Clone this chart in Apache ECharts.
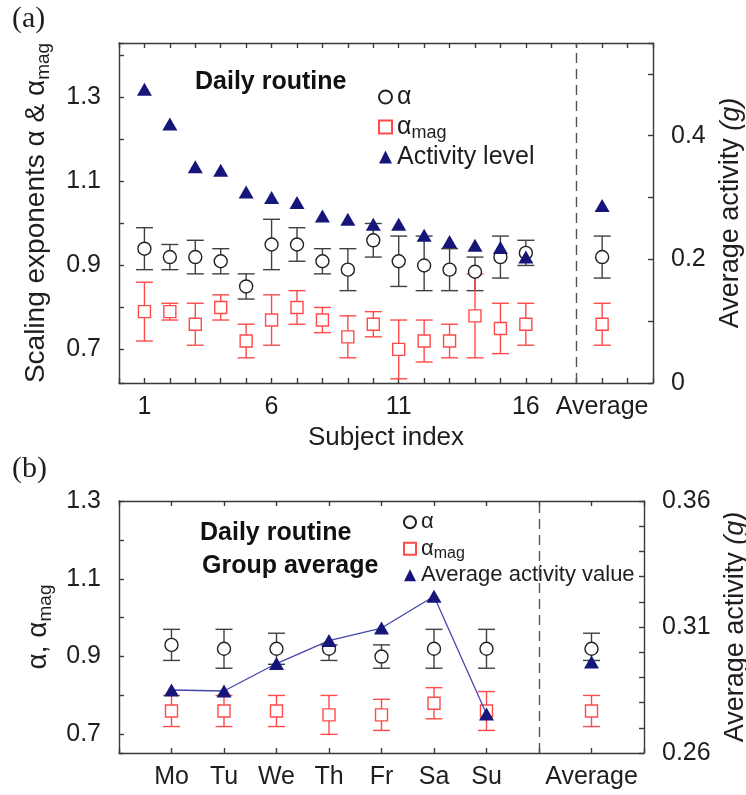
<!DOCTYPE html>
<html>
<head>
<meta charset="utf-8">
<script src="https://cdn.jsdelivr.net/npm/echarts@6/dist/echarts.min.js"></script>
<style>
  html, body { margin: 0; padding: 0; background: #fff; }
  #chart { width: 746px; height: 795px; }
</style>
</head>
<body>
<div id="chart"></div>
<script>
// ---- panel (a): subjects 1..16, "Average" sits at slot 19
const subjX = [1, 2, 3, 4, 5, 6, 7, 8, 9, 10, 11, 12, 13, 14, 15, 16, 19];
const subjTickLabels = { 1: '1', 6: '6', 11: '11', 16: '16', 19: 'Average' };

const alphaA    = [0.94, 0.92, 0.92, 0.91, 0.85, 0.95, 0.95, 0.91, 0.89, 0.96, 0.91, 0.90, 0.89, 0.885, 0.92, 0.93, 0.92];
const alphaATop = [0.99, 0.95, 0.96, 0.94, 0.88, 1.01, 0.99, 0.94, 0.94, 1.00, 0.97, 0.97, 0.94, 0.92, 0.97, 0.96, 0.97];
const alphaABot = [0.89, 0.89, 0.88, 0.88, 0.82, 0.89, 0.91, 0.88, 0.84, 0.92, 0.85, 0.84, 0.84, 0.84, 0.87, 0.90, 0.87];

const magA    = [0.79, 0.79, 0.76, 0.80, 0.72, 0.77, 0.80, 0.77, 0.73, 0.76, 0.70, 0.72, 0.72, 0.78, 0.75, 0.76, 0.76];
const magATop = [0.86, 0.81, 0.81, 0.83, 0.76, 0.83, 0.84, 0.80, 0.78, 0.79, 0.77, 0.77, 0.76, 0.88, 0.81, 0.81, 0.81];
const magABot = [0.72, 0.77, 0.71, 0.77, 0.68, 0.71, 0.76, 0.74, 0.68, 0.73, 0.63, 0.67, 0.68, 0.68, 0.69, 0.71, 0.71];

const actA = [0.475, 0.419, 0.350, 0.344, 0.309, 0.300, 0.292, 0.270, 0.265, 0.257, 0.257, 0.239, 0.229, 0.223, 0.219, 0.204, 0.287];

const leftTicksA = ['0.7', '0.9', '1.1', '1.3'];
const rightTicksA = ['0', '0.2', '0.4'];

// ---- panel (b): weekdays 1..7, "Average" at slot 9
const weekX = [1, 2, 3, 4, 5, 6, 7, 9];
const weekTickLabels = { 1: 'Mo', 2: 'Tu', 3: 'We', 4: 'Th', 5: 'Fr', 6: 'Sa', 7: 'Su', 9: 'Average' };

const alphaB    = [0.93, 0.92, 0.92, 0.92, 0.90, 0.92, 0.92, 0.92];
const alphaBTop = [0.97, 0.97, 0.96, 0.93, 0.93, 0.97, 0.97, 0.96];
const alphaBBot = [0.89, 0.87, 0.88, 0.89, 0.87, 0.87, 0.87, 0.89];

const magB    = [0.76, 0.76, 0.76, 0.75, 0.75, 0.78, 0.76, 0.76];
const magBTop = [0.80, 0.80, 0.80, 0.80, 0.79, 0.82, 0.81, 0.80];
const magBBot = [0.72, 0.72, 0.72, 0.70, 0.71, 0.74, 0.71, 0.72];

const actB = [0.285, 0.2846, 0.2955, 0.3046, 0.3096, 0.3222, 0.2755, 0.2961];

const leftTicksB = ['0.7', '0.9', '1.1', '1.3'];
const rightTicksB = ['0.26', '0.31', '0.36'];

// ---------------------------------------------------------------
const FONT = '"Liberation Sans", Arial, sans-serif';
const INK = '#1e1e1e';
const AXIS = '#3a3a3a';
const BLACK_PT = '#222';
const BLACK_BAR = '#404040';
const RED = '#ff4a4a';
const NAVY = '#16167a';

function zip(xs, a, b) {
  return xs.map((x, i) => b ? [x, a[i], b[i]] : [x, a[i]]);
}

function tickFmt(list) {
  return function (v) {
    for (const s of list) {
      if (Math.abs(parseFloat(s) - v) < 1e-6) return s;
    }
    return '';
  };
}

function errBars(color) {
  return function (params, api) {
    const x = api.value(0);
    const lo = api.coord([x, api.value(1)]);
    const hi = api.coord([x, api.value(2)]);
    const w = 8.5;
    const st = { stroke: color, lineWidth: 1.4 };
    return {
      type: 'group',
      children: [
        { type: 'line', shape: { x1: hi[0], y1: hi[1], x2: lo[0], y2: lo[1] }, style: st },
        { type: 'line', shape: { x1: hi[0] - w, y1: hi[1], x2: hi[0] + w, y2: hi[1] }, style: st },
        { type: 'line', shape: { x1: lo[0] - w, y1: lo[1], x2: lo[0] + w, y2: lo[1] }, style: st }
      ]
    };
  };
}

const axisLine = { show: true, onZero: false, lineStyle: { color: AXIS, width: 1.4 } };
const tickIn = { show: true, inside: true, length: 5, lineStyle: { color: AXIS, width: 1.4 } };
const tickLabel = { color: INK, fontFamily: FONT, fontSize: 25 };

const richSub = (size, lh, sublh, subSize) => ({
  m: { fontFamily: FONT, fontSize: size, color: INK, lineHeight: lh },
  s: { fontFamily: FONT, fontSize: subSize, color: INK, lineHeight: sublh, verticalAlign: 'bottom' },
  i: { fontFamily: FONT, fontSize: size, color: INK, lineHeight: lh, fontStyle: 'italic' }
});

const legendNames = {
  a_alpha: '{m|α}', a_mag: '{m|α}{s|mag}', a_act: '{m|Activity level}',
  b_alpha: '{m|α}', b_mag: '{m|α}{s|mag}', b_act: '{m|Average activity value}'
};

const chart = echarts.init(document.getElementById('chart'), null, { renderer: 'canvas' });

const option = {
  animation: false,
  backgroundColor: '#fff',
  grid: [
    { left: 119, top: 43, width: 534, height: 340, outerBoundsMode: 'none', containLabel: false },
    { left: 119, top: 501, width: 525, height: 252, outerBoundsMode: 'none', containLabel: false }
  ],
  xAxis: [
    {
      gridIndex: 0, type: 'value', min: 0, max: 21, interval: 1, position: 'bottom',
      axisLine: axisLine, axisTick: tickIn, splitLine: { show: false },
      axisLabel: Object.assign({}, tickLabel, { margin: 12, showMinLabel: true, showMaxLabel: true,
        formatter: v => subjTickLabels[Math.round(v)] || '' }),
      name: 'Subject index', nameLocation: 'middle', nameGap: 42,
      nameTextStyle: { fontFamily: FONT, fontSize: 26, color: INK }
    },
    {
      gridIndex: 0, type: 'value', min: 0, max: 21, interval: 1, position: 'top',
      axisLine: axisLine, axisTick: tickIn, axisLabel: { show: false }, splitLine: { show: false }
    },
    {
      gridIndex: 1, type: 'value', min: 0, max: 10, interval: 1, position: 'bottom',
      axisLine: axisLine, axisTick: tickIn, splitLine: { show: false },
      axisLabel: Object.assign({}, tickLabel, { margin: 12, showMinLabel: true, showMaxLabel: true,
        formatter: v => weekTickLabels[Math.round(v)] || '' })
    },
    {
      gridIndex: 1, type: 'value', min: 0, max: 10, interval: 1, position: 'top',
      axisLine: axisLine, axisTick: tickIn, axisLabel: { show: false }, splitLine: { show: false }
    }
  ],
  yAxis: [
    {
      gridIndex: 0, type: 'value', min: 0.62, max: 1.43, minInterval: 0.1, maxInterval: 0.1, position: 'left',
      axisLine: axisLine, axisTick: tickIn, splitLine: { show: false },
      axisLabel: Object.assign({}, tickLabel, { margin: 18, formatter: tickFmt(leftTicksA) }),
      name: '{m|Scaling exponents α & α}{s|mag}', nameLocation: 'middle', nameRotate: 90, nameGap: 66,
      nameTextStyle: { rich: richSub(28, 34, 16, 19) }
    },
    {
      gridIndex: 0, type: 'value', min: 0, max: 0.55, minInterval: 0.1, maxInterval: 0.1, position: 'right',
      axisLine: axisLine, axisTick: tickIn, splitLine: { show: false },
      axisLabel: Object.assign({}, tickLabel, { margin: 18, formatter: tickFmt(rightTicksA) }),
      name: '{m|Average activity }{i|(g)}', nameLocation: 'middle', nameRotate: 90, nameGap: 63,
      nameTextStyle: { rich: richSub(27, 30, 16, 18) }
    },
    {
      gridIndex: 1, type: 'value', min: 0.652, max: 1.3, minInterval: 0.1, maxInterval: 0.1, position: 'left',
      axisLine: axisLine, axisTick: tickIn, splitLine: { show: false },
      axisLabel: Object.assign({}, tickLabel, { margin: 18, formatter: tickFmt(leftTicksB) }),
      name: '{m|α, α}{s|mag}', nameLocation: 'middle', nameRotate: 90, nameGap: 53,
      nameTextStyle: { rich: richSub(28, 34, 16, 19) }
    },
    {
      gridIndex: 1, type: 'value', min: 0.26, max: 0.36, minInterval: 0.01, maxInterval: 0.01, position: 'right',
      axisLine: axisLine, axisTick: tickIn, splitLine: { show: false },
      axisLabel: Object.assign({}, tickLabel, { margin: 18, formatter: tickFmt(rightTicksB) }),
      name: '{m|Average activity }{i|(g)}', nameLocation: 'middle', nameRotate: 90, nameGap: 72,
      nameTextStyle: { rich: richSub(27, 30, 16, 18) }
    }
  ],
  legend: [
    {
      data: [
        { name: 'a_alpha', icon: 'circle' },
        { name: 'a_mag', icon: 'rect' },
        { name: 'a_act', icon: 'triangle' }
      ],
      orient: 'vertical', left: 378, top: 82, itemWidth: 13, itemHeight: 13, itemGap: 0,
      selectedMode: false, padding: 0,
      formatter: n => legendNames[n],
      textStyle: { lineHeight: 30, rich: richSub(25, 30, 14, 18) }
    },
    {
      data: [
        { name: 'b_alpha', icon: 'circle' },
        { name: 'b_mag', icon: 'rect' },
        { name: 'b_act', icon: 'triangle' }
      ],
      orient: 'vertical', left: 403, top: 509, itemWidth: 12, itemHeight: 12, itemGap: 0,
      selectedMode: false, padding: 0,
      formatter: n => legendNames[n],
      textStyle: { lineHeight: 26.5, rich: richSub(22, 26.5, 12, 16) }
    }
  ],
  graphic: [
    { type: 'text', left: 12, top: 4, style: { text: '(a)', font: '30px "Liberation Serif", serif', fill: INK } },
    { type: 'text', left: 12, top: 454, style: { text: '(b)', font: '30px "Liberation Serif", serif', fill: INK } },
    { type: 'text', x: 195, y: 82, style: { text: 'Daily routine', font: 'bold 25px ' + FONT, fill: '#111', textVerticalAlign: 'middle' } },
    { type: 'text', x: 200, y: 533, style: { text: 'Daily routine', font: 'bold 25px ' + FONT, fill: '#111', textVerticalAlign: 'middle' } },
    { type: 'text', x: 202, y: 566, style: { text: 'Group average', font: 'bold 25px ' + FONT, fill: '#111', textVerticalAlign: 'middle' } }
  ],
  series: [
    // ---- panel (a)
    {
      type: 'custom', xAxisIndex: 0, yAxisIndex: 0, renderItem: errBars(BLACK_BAR),
      data: subjX.map((x, i) => [x, alphaABot[i], alphaATop[i]]), encode: { x: 0, y: [1, 2] }, silent: true,
      markLine: {
        silent: true, symbol: 'none', label: { show: false },
        lineStyle: { color: '#555', type: [10, 6], width: 1.4 },
        data: [{ xAxis: 18 }]
      }
    },
    {
      type: 'custom', xAxisIndex: 0, yAxisIndex: 0, renderItem: errBars(RED),
      data: subjX.map((x, i) => [x, magABot[i], magATop[i]]), encode: { x: 0, y: [1, 2] }, silent: true
    },
    {
      name: 'a_alpha', type: 'scatter', xAxisIndex: 0, yAxisIndex: 0, symbol: 'circle', symbolSize: 13,
      itemStyle: { color: '#fff', borderColor: BLACK_PT, borderWidth: 1.4, opacity: 1 },
      data: zip(subjX, alphaA)
    },
    {
      name: 'a_mag', type: 'scatter', xAxisIndex: 0, yAxisIndex: 0, symbol: 'rect', symbolSize: 12,
      itemStyle: { color: '#fff', borderColor: RED, borderWidth: 1.4, opacity: 1 },
      data: zip(subjX, magA)
    },
    {
      name: 'a_act', type: 'scatter', xAxisIndex: 0, yAxisIndex: 1, symbol: 'triangle', symbolSize: [15, 13],
      itemStyle: { color: NAVY, opacity: 1 },
      data: zip(subjX, actA)
    },
    // ---- panel (b)
    {
      type: 'custom', xAxisIndex: 2, yAxisIndex: 2, renderItem: errBars(BLACK_BAR),
      data: weekX.map((x, i) => [x, alphaBBot[i], alphaBTop[i]]), encode: { x: 0, y: [1, 2] }, silent: true,
      markLine: {
        silent: true, symbol: 'none', label: { show: false },
        lineStyle: { color: '#555', type: [10, 6], width: 1.4 },
        data: [{ xAxis: 8 }]
      }
    },
    {
      type: 'custom', xAxisIndex: 2, yAxisIndex: 2, renderItem: errBars(RED),
      data: weekX.map((x, i) => [x, magBBot[i], magBTop[i]]), encode: { x: 0, y: [1, 2] }, silent: true
    },
    {
      name: 'b_alpha', type: 'scatter', xAxisIndex: 2, yAxisIndex: 2, symbol: 'circle', symbolSize: 13,
      itemStyle: { color: '#fff', borderColor: BLACK_PT, borderWidth: 1.4, opacity: 1 },
      data: zip(weekX, alphaB)
    },
    {
      name: 'b_mag', type: 'scatter', xAxisIndex: 2, yAxisIndex: 2, symbol: 'rect', symbolSize: 12,
      itemStyle: { color: '#fff', borderColor: RED, borderWidth: 1.4, opacity: 1 },
      data: zip(weekX, magB)
    },
    {
      name: 'b_act', type: 'line', xAxisIndex: 2, yAxisIndex: 3, symbol: 'triangle', symbolSize: [15, 13],
      showAllSymbol: true, color: NAVY,
      itemStyle: { color: NAVY, opacity: 1 },
      lineStyle: { color: '#4646b0', width: 1.3 },
      data: zip(weekX.slice(0, 7), actB.slice(0, 7))
    },
    {
      name: 'b_act', type: 'scatter', xAxisIndex: 2, yAxisIndex: 3, symbol: 'triangle', symbolSize: [15, 13],
      itemStyle: { color: NAVY, opacity: 1 },
      data: zip(weekX.slice(7), actB.slice(7))
    }
  ]
};

chart.setOption(option);
</script>
</body>
</html>
